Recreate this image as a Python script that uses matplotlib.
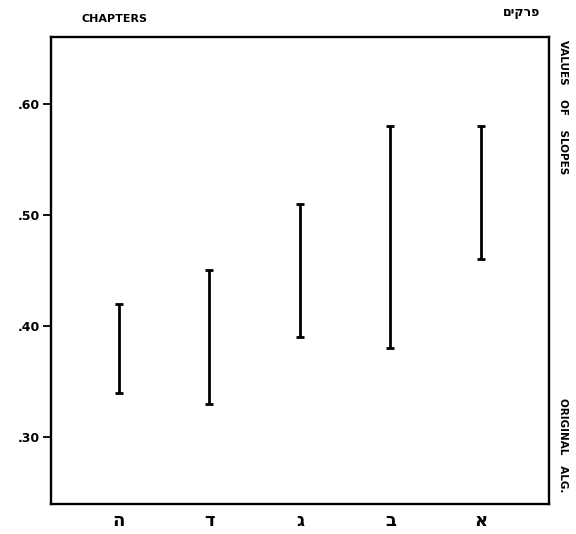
import matplotlib
matplotlib.use("Agg")
import matplotlib.pyplot as plt

chapters = ["ה", "ד", "ג", "ב", "א"]
low = [0.34, 0.33, 0.39, 0.38, 0.46]
high = [0.42, 0.45, 0.51, 0.58, 0.58]
yticks = [0.30, 0.40, 0.50, 0.60]
ytick_labels = [".30", ".40", ".50", ".60"]

plt.rcParams['font.family'] = ['DejaVu Sans']

fig = plt.figure(figsize=(5.76, 5.34), dpi=100)
ax = fig.add_axes([0.0885, 0.0562, 0.8645, 0.8745])

xs = list(range(1, len(chapters) + 1))
mid = [(l + h) / 2 for l, h in zip(low, high)]
err = [[m - l for m, l in zip(mid, low)], [h - m for h, m in zip(high, mid)]]
ax.errorbar(xs, mid, yerr=err, fmt='none', ecolor='black', elinewidth=2.0,
            capsize=2.6, capthick=2.0)

ax.set_xlim(0.25, 5.75)
ax.set_ylim(0.24, 0.66)
ax.set_xticks(xs)
ax.set_xticklabels(chapters, fontsize=13, fontweight='bold')
ax.tick_params(axis='x', length=0, pad=6)
ax.set_yticks(yticks)
ax.set_yticklabels(ytick_labels, fontsize=9, fontweight='bold')
ax.tick_params(axis='y', length=6, width=1.3, direction='out', pad=2)
for s in ax.spines.values():
    s.set_linewidth(1.7)

fig.text(0.142, 0.965, "CHAPTERS", fontsize=8, fontweight='bold', ha='left', va='center')
fig.text(0.905, 0.976, "פרקים"[::-1], fontsize=9, fontweight='bold', ha='center', va='center')
fig.text(0.978, 0.925, "VALUES    OF    SLOPES", fontsize=7.5, fontweight='bold',
         rotation=-90, ha='center', va='top')
fig.text(0.978, 0.255, "ORIGINAL   ALG.", fontsize=7.5, fontweight='bold',
         rotation=-90, ha='center', va='top')

fig.savefig("out.png", dpi=100, facecolor='white')
